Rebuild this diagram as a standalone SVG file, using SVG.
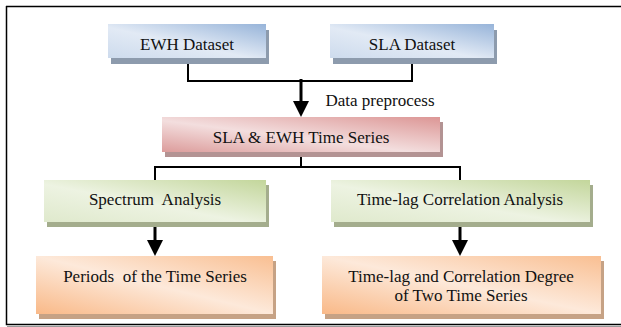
<svg xmlns="http://www.w3.org/2000/svg" width="621" height="327" viewBox="0 0 621 327">
<defs>
<linearGradient id="gBlue" x1="0" y1="1" x2="1" y2="0">
<stop offset="0" stop-color="#cddbed"/><stop offset="0.45" stop-color="#e2eaf5"/><stop offset="1" stop-color="#97b4d9"/>
</linearGradient>
<linearGradient id="gPink" x1="0" y1="1" x2="1" y2="0">
<stop offset="0" stop-color="#dc9c9b"/><stop offset="0.45" stop-color="#f3dede"/><stop offset="1" stop-color="#dc9695"/>
</linearGradient>
<linearGradient id="gGreen" x1="0" y1="1" x2="1" y2="0">
<stop offset="0" stop-color="#dfe9cc"/><stop offset="0.45" stop-color="#edf3e2"/><stop offset="1" stop-color="#c3d69b"/>
</linearGradient>
<linearGradient id="gOrange" x1="0" y1="1" x2="1" y2="0">
<stop offset="0" stop-color="#f9b988"/><stop offset="0.5" stop-color="#fde9da"/><stop offset="1" stop-color="#f9bf92"/>
</linearGradient>
<marker id="arr" viewBox="0 0 16 16" refX="8" refY="8" markerWidth="16" markerHeight="16" markerUnits="userSpaceOnUse" orient="auto">
<path d="M0,0 L16,8 L0,16 z" fill="#000"/>
</marker>
</defs>
<style>
text{font-family:"Liberation Serif","Times New Roman",serif;font-size:17px;fill:#111;text-anchor:middle;white-space:pre}
.line{fill:none;stroke:#000;stroke-width:2}
.arrow{fill:none;stroke:#000;stroke-width:3}
.sb{fill:#8d9bad}.sp{fill:#b39393}.sg{fill:#a4ad8d}.so{fill:#c6a285}
</style>
<path d="M6,6.5 H621 M6.5,6 V324.5 H621" fill="none" stroke="#000" stroke-width="1.5"/>
<path d="M7,326.5 H621" fill="none" stroke="#999" stroke-width="1"/>
<g id="connectors">
<path class="line" d="M188,58 V81 H412 V58"/>
<path class="arrow" d="M301,79 V109" marker-end="url(#arr)"/>
<path class="line" d="M301,152 V167 H155 V181 M301,167 H460 V181"/>
<path class="arrow" d="M155,222 V248" marker-end="url(#arr)"/>
<path class="arrow" d="M460,222 V248" marker-end="url(#arr)"/>
<text x="380" y="106">Data preprocess</text>
</g>
<g id="ewh">
<rect class="sb" x="111" y="30" width="158" height="34"/>
<rect x="108" y="24" width="158" height="34" fill="url(#gBlue)"/>
<text x="187" y="50">EWH Dataset</text>
</g>
<g id="sla">
<rect class="sb" x="333" y="30" width="164" height="34"/>
<rect x="330" y="24" width="164" height="34" fill="url(#gBlue)"/>
<text x="412" y="50">SLA Dataset</text>
</g>
<g id="series">
<rect class="sp" x="165" y="122" width="278" height="35"/>
<rect x="162" y="117" width="278" height="35" fill="url(#gPink)"/>
<text x="301" y="143">SLA &amp; EWH Time Series</text>
</g>
<g id="spectrum">
<rect class="sg" x="47" y="185" width="222" height="42"/>
<rect x="44" y="180" width="222" height="42" fill="url(#gGreen)"/>
<text x="155" y="205">Spectrum  Analysis</text>
</g>
<g id="timelag">
<rect class="sg" x="334" y="185" width="259" height="42"/>
<rect x="331" y="180" width="259" height="42" fill="url(#gGreen)"/>
<text x="460" y="205">Time-lag Correlation Analysis</text>
</g>
<g id="periods">
<rect class="so" x="39" y="261" width="237" height="58"/>
<rect x="36" y="256" width="237" height="58" fill="url(#gOrange)"/>
<text x="155" y="282">Periods  of the Time Series</text>
</g>
<g id="degree">
<rect class="so" x="325" y="261" width="279" height="58"/>
<rect x="322" y="256" width="279" height="58" fill="url(#gOrange)"/>
<text x="461" y="282">Time-lag and Correlation Degree</text>
<text x="461" y="301">of Two Time Series</text>
</g>
</svg>
